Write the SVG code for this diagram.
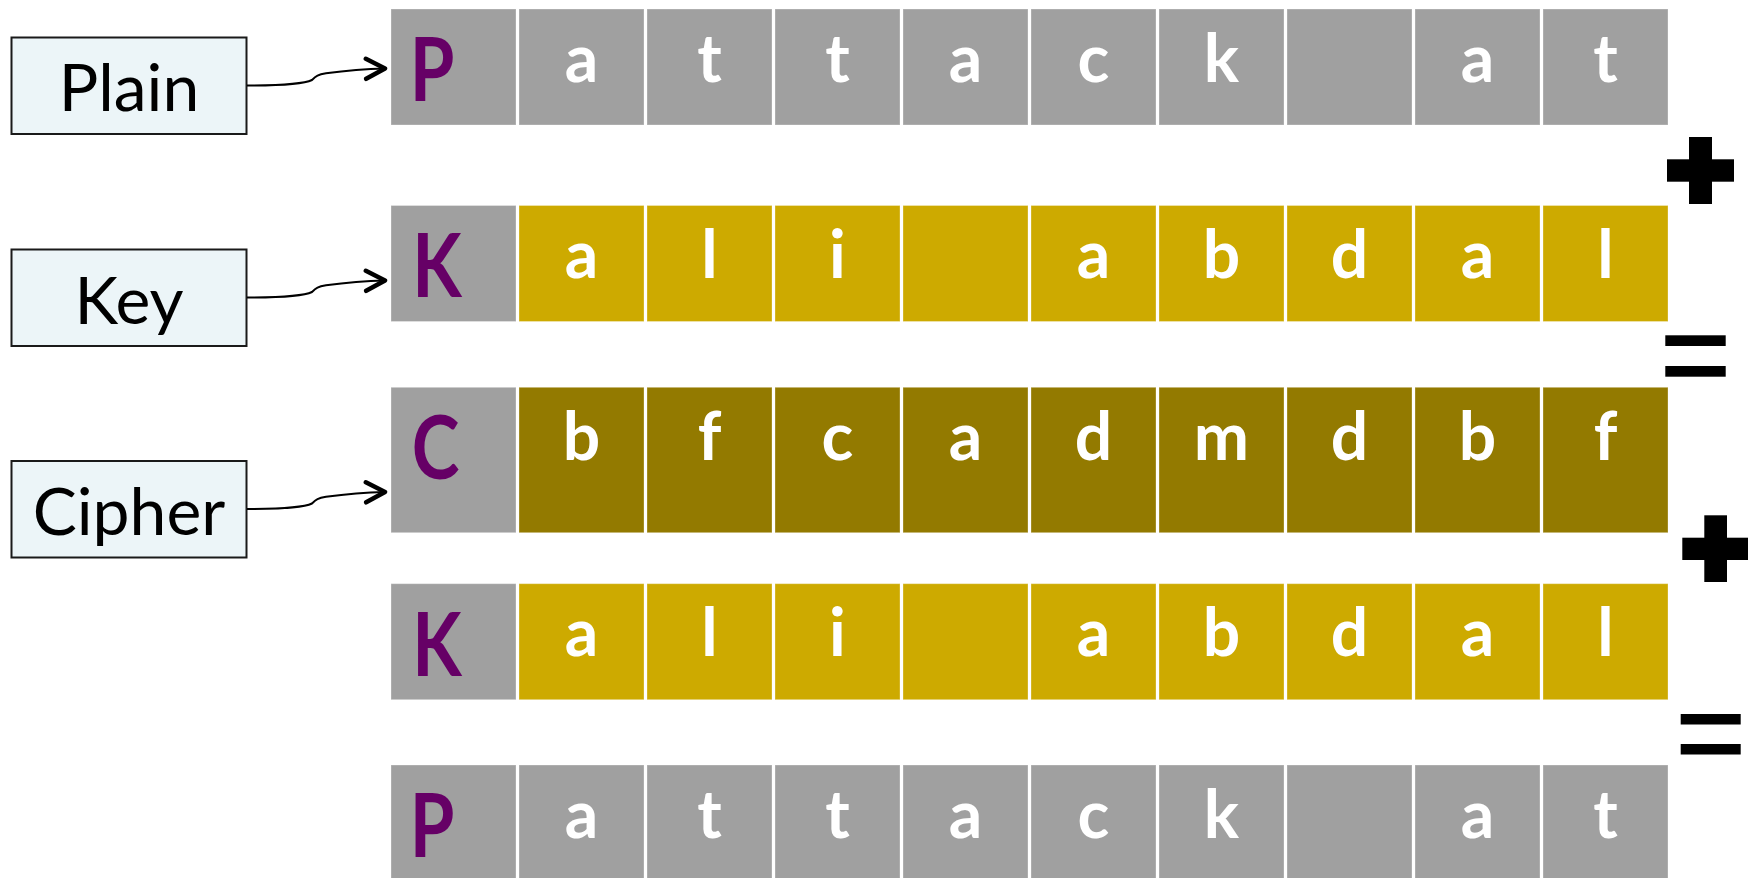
<svg xmlns="http://www.w3.org/2000/svg" width="1748" height="878" viewBox="0 0 1748 878">
<defs>
<style>
.lbl{fill:#ECF5F8;stroke:#1a1a1a;stroke-width:2}
.lt{font-family:Lato,"Open Sans","DejaVu Sans",sans-serif;font-size:66px;fill:#000;text-anchor:middle}
.g{fill:#A0A0A0}
.y{fill:#CDAA00}
.o{fill:#937A00}
.c{stroke:#ffffff;stroke-opacity:0.3;stroke-width:1}
.w{font-family:Lato,"Open Sans","DejaVu Sans",sans-serif;font-weight:bold;font-size:66px;fill:#fff;text-anchor:middle}
.p{font-family:Lato,"Open Sans","DejaVu Sans",sans-serif;font-weight:bold;font-size:88px;fill:#660066;text-anchor:middle}
.conn{fill:none;stroke:#000;stroke-width:2}
.op{fill:#000}
</style>
<marker id="arrow" viewBox="0 0 26 26" refX="22" refY="13" markerWidth="26" markerHeight="26" markerUnits="userSpaceOnUse" orient="auto">
<path d="M3,3 L22,13 L3,23" fill="none" stroke="#000" stroke-width="4.5" stroke-linecap="round" stroke-linejoin="round"/>
</marker>
</defs>

<g id="label-plain">
<rect class="lbl" x="11.5" y="37.5" width="235" height="96.5"/>
<text class="lt" x="129" y="111">Plain</text>
</g>
<g id="label-key">
<rect class="lbl" x="11.5" y="249.5" width="235" height="96.5"/>
<text class="lt" x="129" y="323.5">Key</text>
</g>
<g id="label-cipher">
<rect class="lbl" x="11.5" y="461" width="235" height="96.5"/>
<text class="lt" x="129" y="535">Cipher</text>
</g>

<g id="connectors">
<path class="conn" marker-end="url(#arrow)" d="M247,85.5 C280,85.5 305,83.5 312,80 C316,76 318,74.5 326,73.3 C346,70.5 368,68.8 385,68.5"/>
<path class="conn" marker-end="url(#arrow)" d="M247,297.5 C280,297.5 305,295.5 312,292 C316,288 318,286.5 326,285.3 C346,282.5 368,280.8 385,280.5"/>
<path class="conn" marker-end="url(#arrow)" d="M247,509 C280,509 305,507 312,503.5 C316,499.5 318,498 326,496.8 C346,494 368,492.3 385,492"/>
</g>

<g id="row-plain">
<rect class="g c" x="391" y="9" width="125" height="116"/><text class="p" transform="matrix(0.82 0 0 1 77.8 0)" x="432" y="101">P</text>
<rect class="g c" x="519" y="9" width="125" height="116"/><text class="w" x="581.5" y="81.5">a</text>
<rect class="g c" x="647" y="9" width="125" height="116"/><text class="w" x="709.5" y="81.5">t</text>
<rect class="g c" x="775" y="9" width="125" height="116"/><text class="w" x="837.5" y="81.5">t</text>
<rect class="g c" x="903" y="9" width="125" height="116"/><text class="w" x="965.5" y="81.5">a</text>
<rect class="g c" x="1031" y="9" width="125" height="116"/><text class="w" x="1093.5" y="81.5">c</text>
<rect class="g c" x="1159" y="9" width="125" height="116"/><text class="w" x="1221.5" y="81.5">k</text>
<rect class="g c" x="1287" y="9" width="125" height="116"/>
<rect class="g c" x="1415" y="9" width="125" height="116"/><text class="w" x="1477.5" y="81.5">a</text>
<rect class="g c" x="1543" y="9" width="125" height="116"/><text class="w" x="1605.5" y="81.5">t</text>
</g>

<g id="plus-1">
<rect class="op" x="1689" y="137" width="23" height="67"/>
<rect class="op" x="1667" y="159.3" width="67" height="22.4"/>
</g>

<g id="row-key">
<rect class="g c" x="391" y="205.5" width="125" height="116"/><text class="p" transform="matrix(0.82 0 0 1 78.7 0)" x="437" y="297.5">K</text>
<rect class="y c" x="519" y="205.5" width="125" height="116"/><text class="w" x="581.5" y="278">a</text>
<rect class="y c" x="647" y="205.5" width="125" height="116"/><text class="w" x="709.5" y="278">l</text>
<rect class="y c" x="775" y="205.5" width="125" height="116"/><text class="w" x="837.5" y="278">i</text>
<rect class="y c" x="903" y="205.5" width="125" height="116"/>
<rect class="y c" x="1031" y="205.5" width="125" height="116"/><text class="w" x="1093.5" y="278">a</text>
<rect class="y c" x="1159" y="205.5" width="125" height="116"/><text class="w" x="1221.5" y="278">b</text>
<rect class="y c" x="1287" y="205.5" width="125" height="116"/><text class="w" x="1349.5" y="278">d</text>
<rect class="y c" x="1415" y="205.5" width="125" height="116"/><text class="w" x="1477.5" y="278">a</text>
<rect class="y c" x="1543" y="205.5" width="125" height="116"/><text class="w" x="1605.5" y="278">l</text>
</g>

<g id="equals-1">
<rect class="op" x="1665.3" y="335.3" width="60.4" height="10.7"/>
<rect class="op" x="1665.3" y="366" width="60.4" height="10.7"/>
</g>

<g id="row-cipher">
<rect class="g c" x="391" y="387.3" width="125" height="145.4"/><text class="p" transform="matrix(0.82 0 0 1 78.4 0)" x="435.5" y="479.3">C</text>
<rect class="o c" x="519" y="387.3" width="125" height="145.4"/><text class="w" x="581.5" y="459.8">b</text>
<rect class="o c" x="647" y="387.3" width="125" height="145.4"/><text class="w" x="709.5" y="459.8">f</text>
<rect class="o c" x="775" y="387.3" width="125" height="145.4"/><text class="w" x="837.5" y="459.8">c</text>
<rect class="o c" x="903" y="387.3" width="125" height="145.4"/><text class="w" x="965.5" y="459.8">a</text>
<rect class="o c" x="1031" y="387.3" width="125" height="145.4"/><text class="w" x="1093.5" y="459.8">d</text>
<rect class="o c" x="1159" y="387.3" width="125" height="145.4"/><text class="w" x="1221.5" y="459.8">m</text>
<rect class="o c" x="1287" y="387.3" width="125" height="145.4"/><text class="w" x="1349.5" y="459.8">d</text>
<rect class="o c" x="1415" y="387.3" width="125" height="145.4"/><text class="w" x="1477.5" y="459.8">b</text>
<rect class="o c" x="1543" y="387.3" width="125" height="145.4"/><text class="w" x="1605.5" y="459.8">f</text>
</g>

<g id="plus-2">
<rect class="op" x="1704.3" y="515.3" width="22.7" height="66.7"/>
<rect class="op" x="1682.3" y="537.7" width="65.7" height="22.3"/>
</g>

<g id="row-key-2">
<rect class="g c" x="391" y="583.7" width="125" height="116"/><text class="p" transform="matrix(0.82 0 0 1 78.7 0)" x="437" y="675.7">K</text>
<rect class="y c" x="519" y="583.7" width="125" height="116"/><text class="w" x="581.5" y="656.2">a</text>
<rect class="y c" x="647" y="583.7" width="125" height="116"/><text class="w" x="709.5" y="656.2">l</text>
<rect class="y c" x="775" y="583.7" width="125" height="116"/><text class="w" x="837.5" y="656.2">i</text>
<rect class="y c" x="903" y="583.7" width="125" height="116"/>
<rect class="y c" x="1031" y="583.7" width="125" height="116"/><text class="w" x="1093.5" y="656.2">a</text>
<rect class="y c" x="1159" y="583.7" width="125" height="116"/><text class="w" x="1221.5" y="656.2">b</text>
<rect class="y c" x="1287" y="583.7" width="125" height="116"/><text class="w" x="1349.5" y="656.2">d</text>
<rect class="y c" x="1415" y="583.7" width="125" height="116"/><text class="w" x="1477.5" y="656.2">a</text>
<rect class="y c" x="1543" y="583.7" width="125" height="116"/><text class="w" x="1605.5" y="656.2">l</text>
</g>

<g id="equals-2">
<rect class="op" x="1680.7" y="714" width="60" height="10.5"/>
<rect class="op" x="1680.7" y="744" width="60" height="10.5"/>
</g>

<g id="row-plain-2">
<rect class="g c" x="391" y="765" width="125" height="116"/><text class="p" transform="matrix(0.82 0 0 1 77.8 0)" x="432" y="857">P</text>
<rect class="g c" x="519" y="765" width="125" height="116"/><text class="w" x="581.5" y="837.5">a</text>
<rect class="g c" x="647" y="765" width="125" height="116"/><text class="w" x="709.5" y="837.5">t</text>
<rect class="g c" x="775" y="765" width="125" height="116"/><text class="w" x="837.5" y="837.5">t</text>
<rect class="g c" x="903" y="765" width="125" height="116"/><text class="w" x="965.5" y="837.5">a</text>
<rect class="g c" x="1031" y="765" width="125" height="116"/><text class="w" x="1093.5" y="837.5">c</text>
<rect class="g c" x="1159" y="765" width="125" height="116"/><text class="w" x="1221.5" y="837.5">k</text>
<rect class="g c" x="1287" y="765" width="125" height="116"/>
<rect class="g c" x="1415" y="765" width="125" height="116"/><text class="w" x="1477.5" y="837.5">a</text>
<rect class="g c" x="1543" y="765" width="125" height="116"/><text class="w" x="1605.5" y="837.5">t</text>
</g>
</svg>
